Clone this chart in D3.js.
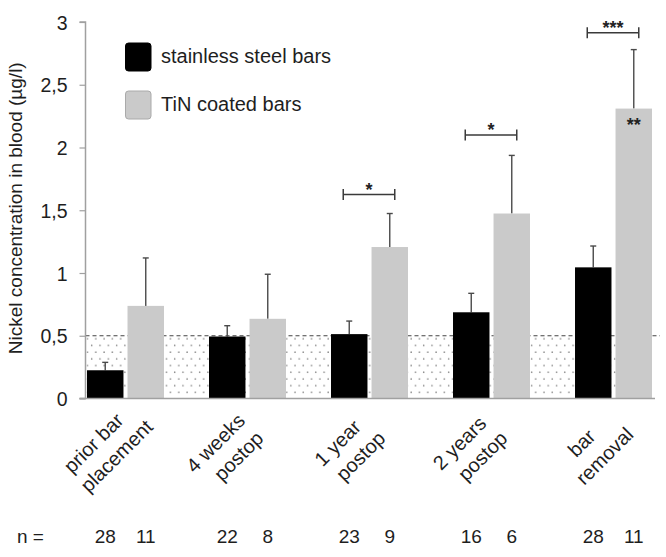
<!DOCTYPE html>
<html><head><meta charset="utf-8">
<script src="https://cdn.jsdelivr.net/npm/d3@7"></script>
<style>
html,body{margin:0;padding:0;background:#fff;}
svg{display:block;font-family:"Liberation Sans",Arial,sans-serif;}
</style></head>
<body><svg id="chart" width="666" height="557"></svg>
<script>
// ---- data ----
const categories = ["prior bar placement","4 weeks postop","1 year postop","2 years postop","bar removal"];
const labelLines = [["prior bar","placement"],["4 weeks","postop"],["1 year","postop"],["2 years","postop"],["bar","removal"]];
const seriesNames = ["stainless steel bars","TiN coated bars"];
const steelValues = [0.225, 0.494, 0.513, 0.687, 1.045];
const steelSD     = [0.063, 0.086, 0.104, 0.151, 0.170];
const tinValues   = [0.738, 0.635, 1.207, 1.474, 2.310];
const tinSD       = [0.382, 0.355, 0.267, 0.463, 0.470];
const nSteel = [28, 22, 23, 16, 28];
const nTin   = [11, 8, 9, 6, 11];
const yTicks = [0, 0.5, 1, 1.5, 2, 2.5, 3];
const yTickLabels = ["0","0,5","1","1,5","2","2,5","3"];
const referenceLevel = 0.5;
const brackets = [
  {cat:"1 year postop", y:1.625, label:"*"},
  {cat:"2 years postop", y:2.10, label:"*"},
  {cat:"bar removal", y:2.915, label:"***"}
];
const barMarks = [{cat:"bar removal", series:1, y:2.2, label:"**"}];

// ---- layout ----
const svg = d3.select("#chart");
const colors = ["#000000","#cacaca"];
const axisColor = "#a0a0a0";
const textColor = "#1e1e1e";

const x0 = d3.scaleBand().domain(categories).range([87,652]).paddingInner(0.369).paddingOuter(0);
const x1 = d3.scaleBand().domain([0,1]).range([0,x0.bandwidth()]).paddingInner(0.1);
const y = d3.scaleLinear().domain([0,3]).range([398.5,22]);
const axisX = 85.5, plotRight = 660;

// dotted pattern
const defs = svg.append("defs");
const pat = defs.append("pattern").attr("id","dots").attr("patternUnits","userSpaceOnUse")
  .attr("width",8.3).attr("height",13.4).attr("x",axisX).attr("y",y(referenceLevel));
pat.append("circle").attr("cx",2).attr("cy",3).attr("r",0.8).attr("fill","#8c8c8c");
pat.append("circle").attr("cx",6.2).attr("cy",9.7).attr("r",0.8).attr("fill","#8c8c8c");

svg.append("rect").attr("x",axisX+1).attr("y",y(referenceLevel))
  .attr("width",652-axisX-1).attr("height",y(0)-y(referenceLevel)).attr("fill","url(#dots)");
svg.append("line").attr("x1",axisX).attr("x2",plotRight)
  .attr("y1",y(referenceLevel)).attr("y2",y(referenceLevel))
  .attr("stroke","#444").attr("stroke-width",1.2).attr("stroke-dasharray","4,3");

// bars
const rows = [];
categories.forEach((c,i)=>{
  rows.push({cat:c, s:0, v:steelValues[i], sd:steelSD[i], n:nSteel[i]});
  rows.push({cat:c, s:1, v:tinValues[i], sd:tinSD[i], n:nTin[i]});
});
const bx = d => x0(d.cat)+x1(d.s);
const bcx = d => bx(d)+x1.bandwidth()/2;

// error bars
const eg = svg.append("g").attr("stroke","#4a4a4a").attr("stroke-width",1.4);
eg.selectAll("line.v").data(rows).join("line")
  .attr("x1",bcx).attr("x2",bcx).attr("y1",d=>y(d.v)).attr("y2",d=>y(d.v+d.sd));
eg.selectAll("line.c").data(rows).join("line")
  .attr("x1",d=>bcx(d)-3).attr("x2",d=>bcx(d)+3).attr("y1",d=>y(d.v+d.sd)).attr("y2",d=>y(d.v+d.sd));

svg.append("g").selectAll("rect").data(rows).join("rect")
  .attr("x",bx).attr("width",x1.bandwidth())
  .attr("y",d=>y(d.v)).attr("height",d=>y(0)-y(d.v))
  .attr("fill",d=>colors[d.s]);

// axes
const yAxis = d3.axisLeft(y).tickValues(yTicks).tickFormat((d,i)=>yTickLabels[i]).tickSize(6).tickPadding(12);
const ya = svg.append("g").attr("transform",`translate(${axisX},0)`).call(yAxis);
ya.select(".domain").attr("stroke",axisColor).attr("stroke-width",1.5).attr("d",`M-6,${y(3)}H0V${y(0)}H-6`);
ya.selectAll(".tick line").attr("stroke",axisColor).attr("stroke-width",1.2);
ya.selectAll(".tick text").attr("font-size",19.5).attr("fill",textColor).attr("font-family","Liberation Sans, Arial, sans-serif").attr("dy","0.36em");
svg.append("line").attr("x1",axisX-6).attr("x2",655).attr("y1",y(0)).attr("y2",y(0))
  .attr("stroke",axisColor).attr("stroke-width",1.5);

// y title
svg.append("text").attr("transform",`translate(22,${(y(0)+y(3))/2 - 2}) rotate(-90)`)
  .attr("text-anchor","middle").attr("font-size",19).attr("fill",textColor)
  .text("Nickel concentration in blood (µg/l)");

// x labels (two lines, rotated)
const lineOffsets = [{dx:-32, y:443},{dx:-9, y:456}];
categories.forEach((c,i)=>{
  const gx = x0(c)+x0.bandwidth()/2;
  labelLines[i].forEach((t,j)=>{
    const o = lineOffsets[j];
    svg.append("text").attr("transform",`translate(${gx+o.dx},${o.y}) rotate(-45)`)
      .attr("text-anchor","middle").attr("dy","0.35em").attr("font-size",20).attr("fill",textColor).text(t);
  });
});

// n row
svg.append("text").attr("x",17).attr("y",543).attr("font-size",19).attr("fill",textColor).text("n =");
svg.append("g").selectAll("text").data(rows).join("text")
  .attr("x",bcx).attr("y",543).attr("text-anchor","middle").attr("font-size",19).attr("fill",textColor)
  .text(d=>d.n);

// significance brackets
brackets.forEach(b=>{
  const xl = x0(b.cat)+x1(0)+x1.bandwidth()/2-6;
  const xr = x0(b.cat)+x1(1)+x1.bandwidth()/2+5;
  const yy = y(b.y);
  const g = svg.append("g").attr("stroke","#3a3a3a").attr("stroke-width",1.5);
  g.append("line").attr("x1",xl).attr("x2",xr).attr("y1",yy).attr("y2",yy);
  g.append("line").attr("x1",xl).attr("x2",xl).attr("y1",yy-5.5).attr("y2",yy+5.5);
  g.append("line").attr("x1",xr).attr("x2",xr).attr("y1",yy-5.5).attr("y2",yy+5.5);
  svg.append("text").attr("x",(xl+xr)/2).attr("y",yy+1).attr("text-anchor","middle")
    .attr("font-size",18).attr("font-weight","bold").attr("fill","#222").text(b.label);
});
barMarks.forEach(m=>{
  const cx = x0(m.cat)+x1(m.series)+x1.bandwidth()/2;
  svg.append("text").attr("x",cx).attr("y",y(m.y)+9).attr("text-anchor","middle")
    .attr("font-size",18).attr("font-weight","bold").attr("fill","#222").text(m.label);
});

// legend
const lg = svg.append("g");
seriesNames.forEach((s,i)=>{
  const yy = 43 + i*48;
  lg.append("rect").attr("x",125.5).attr("y",yy).attr("width",25.5).attr("height",28).attr("rx",3)
    .attr("fill",colors[i]).attr("stroke",i===0?"#000":"#aaaaaa").attr("stroke-width",1);
  lg.append("text").attr("x",161).attr("y",yy+20).attr("font-size",20).attr("fill",textColor).text(s);
});
</script></body></html>
